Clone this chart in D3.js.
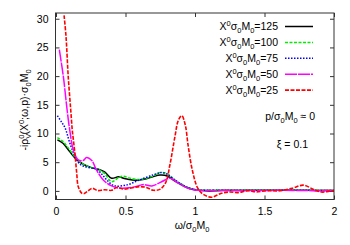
<!DOCTYPE html>
<html>
<head>
<meta charset="utf-8">
<script src="https://cdn.jsdelivr.net/npm/d3@7"></script>
<style>
  body { margin: 0; background: #fff; }
  text { font-family: "Liberation Sans", Arial, sans-serif; font-size: 10.5px; fill: #000; }
</style>
</head>
<body>
<svg id="chart" width="350" height="245"></svg>
<script>
// values
var xTicks = [0, 0.5, 1, 1.5, 2];
var xTickLabels = ['0', '0.5', '1', '1.5', '2'];
var yTicks = [0, 5, 10, 15, 20, 25, 30];
var yTickLabels = ['0', '5', '10', '15', '20', '25', '30'];

var legendValues = ['125', '100', '75', '50', '25'];

var omega125 = [0.01, 0.05, 0.1, 0.15, 0.2, 0.25, 0.3, 0.35, 0.4, 0.45, 0.5, 0.55, 0.6, 0.65, 0.7, 0.75, 0.8, 0.85, 0.9, 0.95, 1.0, 1.05, 1.1, 1.2, 1.4, 1.6, 1.8, 2.0];
var val125 = [8.9, 8.3, 6.8, 5.4, 4.6, 4.1, 3.8, 3.3, 2.2, 2.45, 2.1, 1.9, 1.9, 2.1, 2.5, 2.75, 2.6, 1.8, 1.1, 0.5, 0.2, 0.05, 0.0, 0.05, 0.1, 0.1, 0.1, 0.05];

var omega100 = [0.01, 0.05, 0.1, 0.15, 0.2, 0.25, 0.3, 0.35, 0.4, 0.45, 0.48, 0.55, 0.6, 0.65, 0.7, 0.75, 0.8, 0.85, 0.9, 0.95, 1.0, 1.05, 1.1, 1.2, 1.4, 1.6, 1.8, 2.0];
var val100 = [9.3, 8.6, 7.1, 5.5, 4.6, 4.1, 3.8, 3.0, 1.6, 2.3, 2.55, 2.1, 2.0, 2.2, 2.6, 3.2, 3.0, 2.0, 1.2, 0.55, 0.25, 0.15, 0.15, 0.2, 0.2, 0.15, 0.15, 0.1];

var omega75 = [0.01, 0.04, 0.065, 0.1, 0.137, 0.17, 0.2, 0.25, 0.29, 0.33, 0.365, 0.42, 0.51, 0.6, 0.7, 0.76, 0.8, 0.85, 0.9, 0.95, 1.0, 1.05, 1.1, 1.2, 1.4, 1.6, 1.8, 2.0];
var val75 = [13.1, 12.0, 11.0, 8.3, 6.0, 4.7, 4.3, 4.0, 3.8, 2.9, 1.9, 0.9, 1.05, 1.9, 2.8, 3.2, 2.9, 2.0, 1.2, 0.55, 0.2, 0.1, 0.1, 0.1, 0.1, 0.1, 0.1, 0.05];

var omega50 = [0.024, 0.053, 0.08, 0.1, 0.125, 0.16, 0.196, 0.22, 0.257, 0.29, 0.34, 0.4, 0.46, 0.556, 0.63, 0.69, 0.76, 0.82, 0.87, 0.92, 0.97, 1.02, 1.1, 1.2, 1.4, 1.6, 1.8, 2.0];
var val50 = [24.6, 19.9, 14.1, 10.4, 7.1, 5.4, 5.3, 5.8, 5.3, 3.7, 1.9, 0.87, 0.47, 0.64, 1.1, 0.87, 1.6, 2.2, 1.5, 0.8, 0.3, 0.1, 0.05, 0.1, 0.05, 0.1, 0.05, 0.05];

var omega25 = [0.058, 0.072, 0.088, 0.106, 0.117, 0.125, 0.137, 0.149, 0.16, 0.185, 0.2, 0.225, 0.26, 0.3, 0.35, 0.4, 0.437, 0.49, 0.54, 0.6, 0.65, 0.7, 0.75, 0.79, 0.82, 0.856, 0.88, 0.905, 0.93, 0.95, 0.98, 1.02, 1.06, 1.12, 1.19, 1.25, 1.31, 1.38, 1.44, 1.52, 1.6, 1.7, 1.78, 1.85, 1.91, 1.98, 2.0];
var val25 = [30.6, 26.9, 19.9, 14.1, 10.6, 8.9, 6.3, 3.1, 0.75, -0.4, -0.5, -0.1, 0.45, 0.05, 0.2, 0.1, 0.6, 0.3, 0.5, 0.75, 0.6, 0.1, 0.3, 1.5, 4.6, 9.5, 12.3, 13.1, 11.5, 8.0, 3.7, 0.47, -0.6, -1.1, -0.4, -0.2, -0.3, 0.05, -0.17, 0.05, 0.0, 0.47, 1.0, 0.3, -0.2, 0.0, 0.0];

var series = [
    {name: legendValues[0], omega: omega125, val: val125, color: '#000000', dash: null, width: 1.5},
    {name: legendValues[1], omega: omega100, val: val100, color: '#00ee00', dash: '3,1.5', width: 1.5},
    {name: legendValues[2], omega: omega75, val: val75, color: '#0000ff', dash: '1.5,1.5', width: 1.5},
    {name: legendValues[3], omega: omega50, val: val50, color: '#ff00ff', dash: '12,1', width: 1.5},
    {name: legendValues[4], omega: omega25, val: val25, color: '#ff0000', dash: '4,1.5', width: 1.6}
];

var svg = d3.select('#chart');

var pLeft = 55.5, pRight = 334, pTop = 13, pBottom = 199.5;

var x = d3.scaleLinear().domain([0, 2]).range([56, 334]);
var y = d3.scaleLinear().domain([-1.5, 31]).range([pBottom, pTop]);

svg.append('defs').append('clipPath').attr('id', 'plotclip')
    .append('rect')
    .attr('x', pLeft).attr('y', pTop)
    .attr('width', pRight - pLeft).attr('height', pBottom - pTop);

// axes: ticks inward, mirrored on top and right
var tickLen = 4;
var axisBottom = d3.axisBottom(x).tickValues(xTicks).tickSize(-tickLen)
    .tickFormat(function(d, i) { return xTickLabels[i]; }).tickPadding(8);
var axisTop = d3.axisTop(x).tickValues(xTicks).tickSize(-tickLen).tickFormat('');
var axisLeft = d3.axisLeft(y).tickValues(yTicks).tickSize(-tickLen)
    .tickFormat(function(d, i) { return yTickLabels[i]; }).tickPadding(7);
var axisRight = d3.axisRight(y).tickValues(yTicks).tickSize(-tickLen).tickFormat('');

function styleAxis(g) {
    g.select('.domain').remove();
    g.selectAll('.tick line').attr('stroke', '#333').attr('stroke-width', 1);
    g.selectAll('.tick text').style('font-size', '10.5px')
        .style('font-family', '"Liberation Sans", Arial, sans-serif');
}

svg.append('g').attr('transform', 'translate(0,' + pBottom + ')').call(axisBottom).call(styleAxis);
svg.append('g').attr('transform', 'translate(0,' + pTop + ')').call(axisTop).call(styleAxis);
svg.append('g').attr('transform', 'translate(' + pLeft + ',0)').call(axisLeft).call(styleAxis);
svg.append('g').attr('transform', 'translate(' + pRight + ',0)').call(axisRight).call(styleAxis);

// curves
var line = d3.line()
    .x(function(d) { return x(d[0]); })
    .y(function(d) { return y(d[1]); })
    .curve(d3.curveCatmullRom.alpha(0.5));

var plot = svg.append('g').attr('clip-path', 'url(#plotclip)');

series.forEach(function(s) {
    var pts = s.omega.map(function(w, i) { return [w, s.val[i]]; });
    plot.append('path')
        .datum(pts)
        .attr('d', line)
        .attr('fill', 'none')
        .attr('stroke', s.color)
        .attr('stroke-width', s.width)
        .attr('stroke-dasharray', s.dash);
});

// frame
svg.append('rect')
    .attr('x', pLeft).attr('y', pTop)
    .attr('width', pRight - pLeft).attr('height', pBottom - pTop)
    .attr('fill', 'none').attr('stroke', '#333').attr('stroke-width', 1);

// legend
var legend = svg.append('g');
series.forEach(function(s, i) {
    var ly = 30 + i * 15.9;
    var t = legend.append('text').attr('x', 278).attr('y', ly).attr('text-anchor', 'end');
    t.append('tspan').text('X');
    t.append('tspan').attr('dy', -4).style('font-size', '7.5px').text('0');
    t.append('tspan').attr('dy', 4).text('σ');
    t.append('tspan').attr('dy', 3).style('font-size', '7.5px').text('0');
    t.append('tspan').attr('dy', -3).text('M');
    t.append('tspan').attr('dy', 3).style('font-size', '7.5px').text('0');
    t.append('tspan').attr('dy', -3).text('=' + s.name);
    legend.append('line')
        .attr('x1', 285).attr('x2', 313)
        .attr('y1', ly - 3.5).attr('y2', ly - 3.5)
        .attr('stroke', s.color).attr('stroke-width', s.width)
        .attr('stroke-dasharray', s.dash);
});

// annotations
var ann = svg.append('text').attr('x', 315).attr('y', 120).attr('text-anchor', 'end');
ann.append('tspan').text('p/σ');
ann.append('tspan').attr('dy', 3).style('font-size', '7.5px').text('0');
ann.append('tspan').attr('dy', -3).text('M');
ann.append('tspan').attr('dy', 3).style('font-size', '7.5px').text('0');
ann.append('tspan').attr('dy', -3).text(' ≈ 0');

svg.append('text').attr('x', 308).attr('y', 148).attr('text-anchor', 'end').text('ξ = 0.1');

// x axis title
var xt = svg.append('text').attr('x', 192).attr('y', 229).attr('text-anchor', 'middle');
xt.append('tspan').text('ω/σ');
xt.append('tspan').attr('dy', 3).style('font-size', '7.5px').text('0');
xt.append('tspan').attr('dy', -3).text('M');
xt.append('tspan').attr('dy', 3).style('font-size', '7.5px').text('0');

// y axis title
var yt = svg.append('text')
    .attr('transform', 'translate(28,110) rotate(-90)')
    .attr('text-anchor', 'middle');
yt.append('tspan').text('-iρ');
yt.append('tspan').attr('dy', 3).style('font-size', '7.5px').text('V');
yt.append('tspan').attr('dy', -7).attr('dx', -5).style('font-size', '7.5px').text('0');
yt.append('tspan').attr('dy', 4).text('(X');
yt.append('tspan').attr('dy', -4).style('font-size', '7.5px').text('0');
yt.append('tspan').attr('dy', 4).text(';ω,p)·σ');
yt.append('tspan').attr('dy', 3).style('font-size', '7.5px').text('0');
yt.append('tspan').attr('dy', -3).text('M');
yt.append('tspan').attr('dy', 3).style('font-size', '7.5px').text('0');
</script>
</body>
</html>
